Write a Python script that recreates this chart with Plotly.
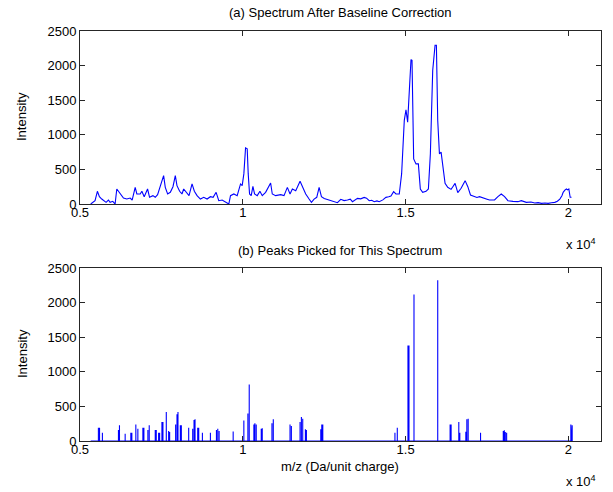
import plotly.graph_objects as go

# Spectrum after baseline correction (m/z, intensity)
spec_mz = [5329, 5462, 5534, 5596, 5668, 5719, 5801, 5873, 5924, 6007, 6078, 6130, 6233, 6335, 6438,
           6541, 6602, 6695, 6746, 6849, 6900, 6972, 7075, 7136, 7239, 7311, 7383, 7465, 7527, 7568,
           7619, 7691, 7773, 7855, 7927, 7978, 8060, 8132, 8184, 8266, 8348, 8441, 8512, 8595, 8697,
           8800, 8903, 9005, 9088, 9180, 9262, 9365, 9468, 9570, 9622, 9724, 9827, 9930, 9981, 10032,
           10084, 10135, 10166, 10207, 10258, 10310, 10361, 10443, 10525, 10597, 10700, 10854, 10905,
           11008, 11162, 11265, 11368, 11450, 11522, 11625, 11758, 11830, 11932, 12035, 12107, 12189,
           12271, 12343, 12415, 12500, 12597, 12750, 12906, 13008, 13110, 13214, 13300, 13368, 13450,
           13522, 13620, 13727, 13800, 13881, 13960, 14035, 14120, 14189, 14300, 14395, 14480, 14549,
           14631, 14703, 14805, 14877, 14959, 15011, 15062, 15113, 15165, 15196, 15247,
           15319, 15391, 15452, 15524, 15627, 15699, 15760, 15832, 15904, 15945, 15986, 16038, 16089,
           16170, 16211, 16293, 16396, 16450, 16519, 16602, 16704, 16827, 16910, 16992, 17115, 17190,
           17269, 17350, 17423, 17500, 17577, 17650, 17731, 17834, 17937, 18039, 18142, 18296, 18450,
           18553, 18707, 18850, 18965, 19070, 19170, 19280, 19376, 19480, 19581, 19660, 19735, 19800,
           19838, 19890, 19940, 19975, 20012, 20053, 20094]
spec_intensity = [0, 48, 184, 106, 72, 48, 24, 58, 24, 39, 0, 217, 145, 87, 72,
                  87, 58, 241, 145, 145, 184, 106, 217, 97, 121, 97, 135, 266, 330, 410,
                  241, 145, 169, 250, 410, 266, 184, 145, 217, 169, 121, 290, 184, 121, 72,
                  97, 72, 106, 97, 169, 48, 58, 24, 0, 121, 145, 121, 290, 266, 435,
                  811, 797, 435, 145, 121, 256, 145, 121, 184, 121, 169, 304, 145,
                  121, 135, 121, 241, 145, 217, 193, 328, 241, 145, 72, 24, 72,
                  97, 241, 106, 80, 68, 45, 19, 68, 50, 58, 70, 34, 60,
                  82, 75, 96, 85, 48, 55, 34, 45, 34, 60, 96, 105, 116,
                  178, 145, 145, 435, 1208, 1362, 1183, 1739, 2087, 2077, 652,
                  580, 580, 217, 169, 184, 217, 725, 1932, 2294, 2294, 1208, 725, 749,
                  492, 299, 241, 212, 250, 299, 164, 227, 338, 251, 130, 106, 95,
                  106, 90, 82, 70, 58, 62, 58, 106, 145, 106, 48, 38, 34,
                  48, 24, 30, 15, 20, 10, 14, 10, 18, 24, 40, 72, 120,
                  169, 200, 217, 205, 217, 97, 97]

# Picked peaks (m/z, intensity)
peak_mz = [5565, 5600, 5688, 6181, 6212, 6387, 6561, 6592, 6715, 6777, 6931, 6962, 7085, 7126,
           7311, 7342, 7414, 7445, 7516, 7547, 7650, 7722, 7753, 7937, 7979, 8009, 8081, 8112,
           8338, 8461, 8502, 8533, 8615, 8646, 8759, 9005, 9190, 9231, 9272, 9704, 10032, 10156,
           10197, 10340, 10371, 10412, 10566, 10597, 10895, 10936, 11450, 11491, 11758, 11799,
           11840, 11922, 11953, 12394, 12425, 12456, 14672, 14744, 15072, 15103, 15257, 15986,
           16366, 16397, 16633, 16664, 16849, 16880, 16921, 17301, 17999, 18030, 18061, 18102,
           20074, 20115]
peak_intensity = [192, 192, 120, 159, 226, 106, 120, 120, 240, 178, 192, 192, 159, 226,
                  159, 159, 120, 120, 274, 274, 418, 144, 130, 240, 385, 418, 226, 226,
                  192, 178, 303, 313, 192, 192, 120, 120, 159, 178, 144, 139, 298, 399,
                  818, 240, 255, 240, 178, 183, 255, 313, 240, 216, 274, 346,
                  322, 168, 159, 168, 240, 240, 120, 192, 1380, 1380, 2116, 2323,
                  240, 240, 274, 120, 135, 313, 322, 120, 144, 154, 130, 120,
                  240, 226]
baseline_mz = [5329, 20094]

x_ticks = [5000, 10000, 15000, 20000]
x_ticklabels = ["0.5", "1", "1.5", "2"]
y_ticks = [0, 500, 1000, 1500, 2000, 2500]
y_ticklabels = ["0", "500", "1000", "1500", "2000", "2500"]

# build stem-style line for picked peaks
stem_x = [baseline_mz[0]]
stem_y = [0]
for m, h in zip(peak_mz, peak_intensity):
    stem_x += [m, m, m]
    stem_y += [0, h, 0]
stem_x.append(baseline_mz[1])
stem_y.append(0)

BLUE = "rgb(0,0,255)"
FONT = "Liberation Sans, Arial, sans-serif"

fig = go.Figure()
fig.add_trace(go.Scatter(x=spec_mz, y=spec_intensity, mode="lines",
                         line=dict(color=BLUE, width=1.1), xaxis="x", yaxis="y",
                         showlegend=False, hoverinfo="skip"))
fig.add_trace(go.Scatter(x=stem_x, y=stem_y, mode="lines",
                         line=dict(color=BLUE, width=1.1), xaxis="x2", yaxis="y2",
                         showlegend=False, hoverinfo="skip"))

axis_common = dict(showline=True, linecolor="#262626", linewidth=1, mirror="allticks",
                   ticks="inside", ticklen=5, tickcolor="#262626", showgrid=False,
                   zeroline=False, tickfont=dict(family=FONT, size=13, color="black"))

fig.update_layout(
    width=613, height=492,
    margin=dict(l=80, r=12, t=31, b=51),
    paper_bgcolor="white", plot_bgcolor="white",
    font=dict(family=FONT, size=13, color="black"),
    xaxis=dict(domain=[0, 1], anchor="y", range=[5000, 21000], tickvals=x_ticks,
               ticktext=x_ticklabels, ticklabelstandoff=-4, **axis_common),
    yaxis=dict(domain=[0.578, 1], anchor="x", range=[0, 2500], tickvals=y_ticks,
               ticktext=y_ticklabels, **axis_common),
    xaxis2=dict(domain=[0, 1], anchor="y2", range=[5000, 21000], tickvals=x_ticks,
                ticktext=x_ticklabels, ticklabelstandoff=-4, **axis_common),
    yaxis2=dict(domain=[0, 0.422], anchor="x2", range=[0, 2500], tickvals=y_ticks,
                ticktext=y_ticklabels, **axis_common),
)

W, H, L, R, T, B = 613, 492, 80, 12, 31, 51


def px(xp, yp):
    return (xp - L) / (W - L - R), (H - B - yp) / (H - T - B)


def note(text, xp, yp, xanchor="center", angle=0):
    x, y = px(xp, yp)
    return dict(text=text, x=x, y=y, xref="paper", yref="paper", xanchor=xanchor,
                yanchor="middle", showarrow=False, textangle=angle, font=dict(size=13))


ann = [
    note("(a) Spectrum After Baseline Correction", 340, 13),
    note("(b) Peaks Picked for This Spectrum", 340, 250),
    note("Intensity", 22, 117, angle=-90),
    note("Intensity", 22, 354, angle=-90),
    note("m/z (Da/unit charge)", 340, 466),
    note("x 10<sup>4</sup>", 598, 244, xanchor="right"),
    note("x 10<sup>4</sup>", 598, 481, xanchor="right"),
]
fig.update_layout(annotations=ann)

fig.write_html("out.html")
